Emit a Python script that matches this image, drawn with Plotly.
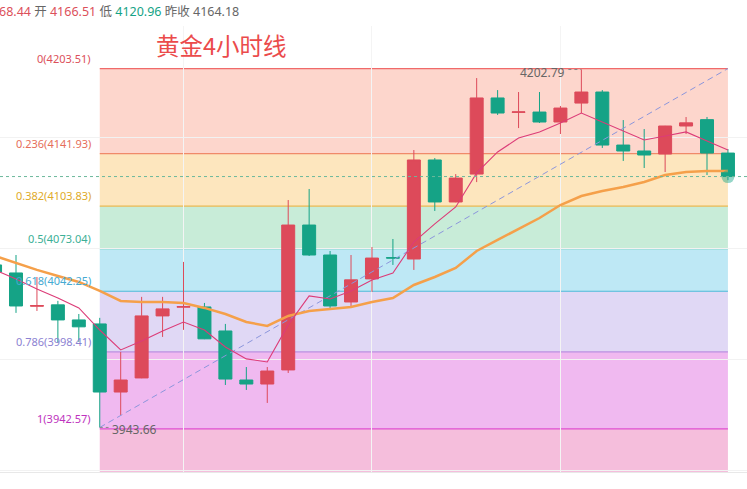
import plotly.graph_objects as go

# ---------------- data ----------------
idx = list(range(36))
opens = [4061.3, 4055.5, 4031.4, 4032.4, 4021.5, 4018.6, 3969.3, 3979.5, 4024.4, 4030.7,
         4030.9, 4013.5, 3978.0, 3975.1, 3985.3, 4090.2, 4068.5, 4034.5, 4051.2, 4066.6,
         4065.6, 4137.3, 4106.9, 4127.1, 4182.2, 4171.8, 4172.0, 4164.8, 4178.5, 4186.5,
         4148.1, 4143.8, 4141.6, 4161.9, 4166.51, 4142.3]
highs = [4063.5, 4068.5, 4052.6, 4035.3, 4025.8, 4023.0, 3998.3, 4038.2, 4038.2, 4063.5,
         4033.8, 4018.6, 3987.4, 3987.4, 4108.3, 4116.3, 4071.4, 4068.5, 4074.3, 4080.1,
         4144.5, 4138.7, 4127.1, 4196.6, 4187.9, 4186.5, 4186.5, 4176.4, 4202.79, 4187.9,
         4166.2, 4159.7, 4162.0, 4168.4, 4168.44, 4145.2]
lows = [4055.5, 4026.6, 4028.0, 4004.8, 4005.6, 3943.66, 3952.7, 3979.3, 4009.2, 4014.3,
        4007.6, 3974.4, 3970.8, 3961.4, 3983.1, 4067.8, 4028.7, 4030.9, 4041.8, 4061.3,
        4057.7, 4100.4, 4106.7, 4121.3, 4169.9, 4160.4, 4164.1, 4156.1, 4171.3, 4146.0,
        4136.6, 4131.5, 4128.6, 4156.1, 4126.4, 4122.7]
closes = [4056.2, 4031.6, 4031.9, 4021.5, 4016.5, 3969.3, 3978.0, 4024.4, 4029.5, 4031.2,
          4007.8, 3978.7, 3975.1, 3984.5, 4090.2, 4068.5, 4031.6, 4050.5, 4066.3, 4066.3,
          4137.3, 4106.9, 4124.2, 4182.2, 4171.3, 4172.1, 4164.8, 4174.9, 4186.5, 4148.1,
          4143.8, 4140.9, 4161.9, 4164.18, 4142.3, 4125.3]
ma_fast = [4057.7, 4051.2, 4043.9, 4037.4, 4030.2, 4014.2, 3999.8, 4006.3, 4013.5, 4020.0,
           4014.2, 4001.9, 3993.3, 3991.1, 4017.9, 4038.9, 4036.7, 4042.5, 4050.4, 4055.5,
           4077.9, 4091.0, 4103.3, 4127.9, 4143.1, 4153.2, 4157.6, 4164.1, 4171.3, 4164.8,
           4158.3, 4151.8, 4154.7, 4157.6, 4151.0, 4144.5]
ma_slow = [4067.8, 4062.7, 4057.7, 4053.3, 4049.0, 4042.5, 4035.2, 4034.5, 4034.5, 4033.8,
           4030.2, 4025.8, 4020.0, 4017.1, 4024.4, 4028.0, 4029.4, 4030.9, 4034.5, 4037.4,
           4046.8, 4052.6, 4059.1, 4071.4, 4079.4, 4087.3, 4095.3, 4104.7, 4111.2, 4114.8,
           4117.7, 4121.4, 4126.4, 4128.6, 4129.3, 4129.3]

fib_ratio_labels = ["0", "0.236", "0.382", "0.5", "0.618", "0.786", "1"]
fib_prices = [4203.51, 4141.93, 4103.83, 4073.04, 4042.25, 3998.41, 3942.57]
fib_start_idx = 5
fib_end_idx = 35
swing_low_idx, swing_low = 5, 3943.66
swing_high_idx, swing_high = 28, 4202.79
last_price = 4125.3

header_high_tail = "68.44"
header_open = "4166.51"
header_low = "4120.96"
header_prev = "4164.18"
title_text = "黄金4小时线"

# ---------------- styles ----------------
Y_MIN, Y_MAX = 3911.4, 4234.3
X_MIN, X_MAX = 0.236, 35.91
UP = "#dd4a5a"
DOWN = "#15a386"
band_colors = ["#fdd6cc", "#fde6be", "#c8ecd8", "#bee8f5", "#e0d8f5", "#f0b9f0", "#f5bedc"]
line_colors = ["#f06a6a", "#f08a6a", "#e8b850", "#5cc8a8", "#4ab8d8", "#b890e0", "#e050d0"]
label_colors = ["#dc505a", "#e66e5a", "#e0aa28", "#3caf96", "#46aad2", "#8c82d2", "#be32be"]
FONT = "Noto Sans, Noto Sans CJK SC, sans-serif"

fig = go.Figure()

# fib bands + lines
shapes = []
band_tops = fib_prices
band_bottoms = fib_prices[1:] + [Y_MIN]
for i in range(len(fib_prices)):
    shapes.append(dict(type="rect", xref="x", yref="y", x0=fib_start_idx, x1=fib_end_idx,
                       y0=band_bottoms[i], y1=band_tops[i], fillcolor=band_colors[i],
                       line=dict(width=0), layer="below"))
for i, p in enumerate(fib_prices):
    shapes.append(dict(type="line", xref="x", yref="y", x0=fib_start_idx, x1=fib_end_idx,
                       y0=p, y1=p, line=dict(color=line_colors[i], width=1.2), layer="below"))
# current price dashed line
shapes.append(dict(type="line", xref="paper", yref="y", x0=0, x1=1, y0=last_price, y1=last_price,
                   line=dict(color="#6cb89c", width=1, dash="3px,3px"), layer="above"))
# dotted connectors for swing labels
shapes.append(dict(type="line", xref="x", yref="y", x0=swing_high_idx - 0.62, x1=swing_high_idx,
                   y0=swing_high, y1=swing_high, line=dict(color="#888", width=1, dash="dot")))
shapes.append(dict(type="line", xref="x", yref="y", x0=swing_low_idx, x1=swing_low_idx + 0.42,
                   y0=swing_low, y1=swing_low, line=dict(color="#888", width=1, dash="dot")))

# diagonal dashed trend line
fig.add_trace(go.Scatter(x=[swing_low_idx, fib_end_idx], y=[swing_low, fib_prices[0]],
                         mode="lines", line=dict(color="#8c96dc", width=1, dash="6px,4px"),
                         hoverinfo="skip", showlegend=False))

fig.add_trace(go.Candlestick(
    x=idx, open=opens, high=highs, low=lows, close=closes,
    increasing=dict(line=dict(color=UP, width=1), fillcolor=UP),
    decreasing=dict(line=dict(color=DOWN, width=1), fillcolor=DOWN),
    whiskerwidth=0, showlegend=False, hoverinfo="skip"))

fig.add_trace(go.Scatter(x=idx, y=ma_slow, mode="lines",
                         line=dict(color="#f5a04a", width=2.5), hoverinfo="skip", showlegend=False))
fig.add_trace(go.Scatter(x=idx, y=ma_fast, mode="lines",
                         line=dict(color="#dc3c78", width=1.1), hoverinfo="skip", showlegend=False))

# glowing last-price dot
fig.add_trace(go.Scatter(x=[idx[-1]], y=[closes[-1]], mode="markers",
                         marker=dict(color="rgba(21,163,134,0.45)", size=13, line=dict(width=0)),
                         hoverinfo="skip", showlegend=False))

annotations = []
for i, p in enumerate(fib_prices):
    annotations.append(dict(xref="paper", yref="y", x=93 / 747, y=p, xanchor="right", yanchor="bottom",
                            yshift=1, showarrow=False,
                            text=f"{fib_ratio_labels[i]}({p:.2f})",
                            font=dict(family=FONT, size=11, color=label_colors[i])))
annotations.append(dict(xref="x", yref="y", x=swing_high_idx, y=swing_high, xanchor="right",
                        yanchor="middle", xshift=-14, yshift=-3, showarrow=False,
                        text=f"{swing_high:.2f}", font=dict(family=FONT, size=12, color="#666")))
annotations.append(dict(xref="x", yref="y", x=swing_low_idx, y=swing_low, xanchor="left",
                        yanchor="middle", xshift=10, yshift=-2, showarrow=False,
                        text=f"{swing_low:.2f}", font=dict(family=FONT, size=12, color="#666")))
annotations.append(dict(xref="paper", yref="paper", x=0, y=(472 - 12) / 446, xanchor="left",
                        yanchor="middle", xshift=-3, showarrow=False,
                        text=(f"<span style='color:#dc505a'>{header_high_tail}</span> 开 "
                              f"<span style='color:#dc505a'>{header_open}</span> 低 "
                              f"<span style='color:#15a386'>{header_low}</span> 昨收 {header_prev}"),
                        font=dict(family=FONT, size=12.5, color="#666")))
annotations.append(dict(xref="paper", yref="paper", x=221.5 / 747, y=(472 - 45) / 446,
                        xanchor="center", yanchor="middle", showarrow=False, text=title_text,
                        font=dict(family="Noto Sans CJK SC, sans-serif", size=23.5, color="#eb4b4b")))

fig.update_layout(
    width=747, height=489, autosize=False,
    margin=dict(l=0, r=0, t=26, b=17),
    paper_bgcolor="white", plot_bgcolor="white",
    shapes=shapes, annotations=annotations,
    boxgap=0.38, boxgroupgap=0,
    xaxis=dict(range=[X_MIN, X_MAX], showticklabels=False, showgrid=True, tick0=0, dtick=9,
               gridcolor="#f4f4f4", zeroline=False, showline=True, linecolor="#e8e8e8",
               rangeslider=dict(visible=False), fixedrange=True),
    yaxis=dict(range=[Y_MIN, Y_MAX], showticklabels=False, showgrid=True, tick0=3993.2, dtick=80.35,
               gridcolor="#f2f2f2", zeroline=False, fixedrange=True),
    showlegend=False,
)

fig.write_html("out.html")
